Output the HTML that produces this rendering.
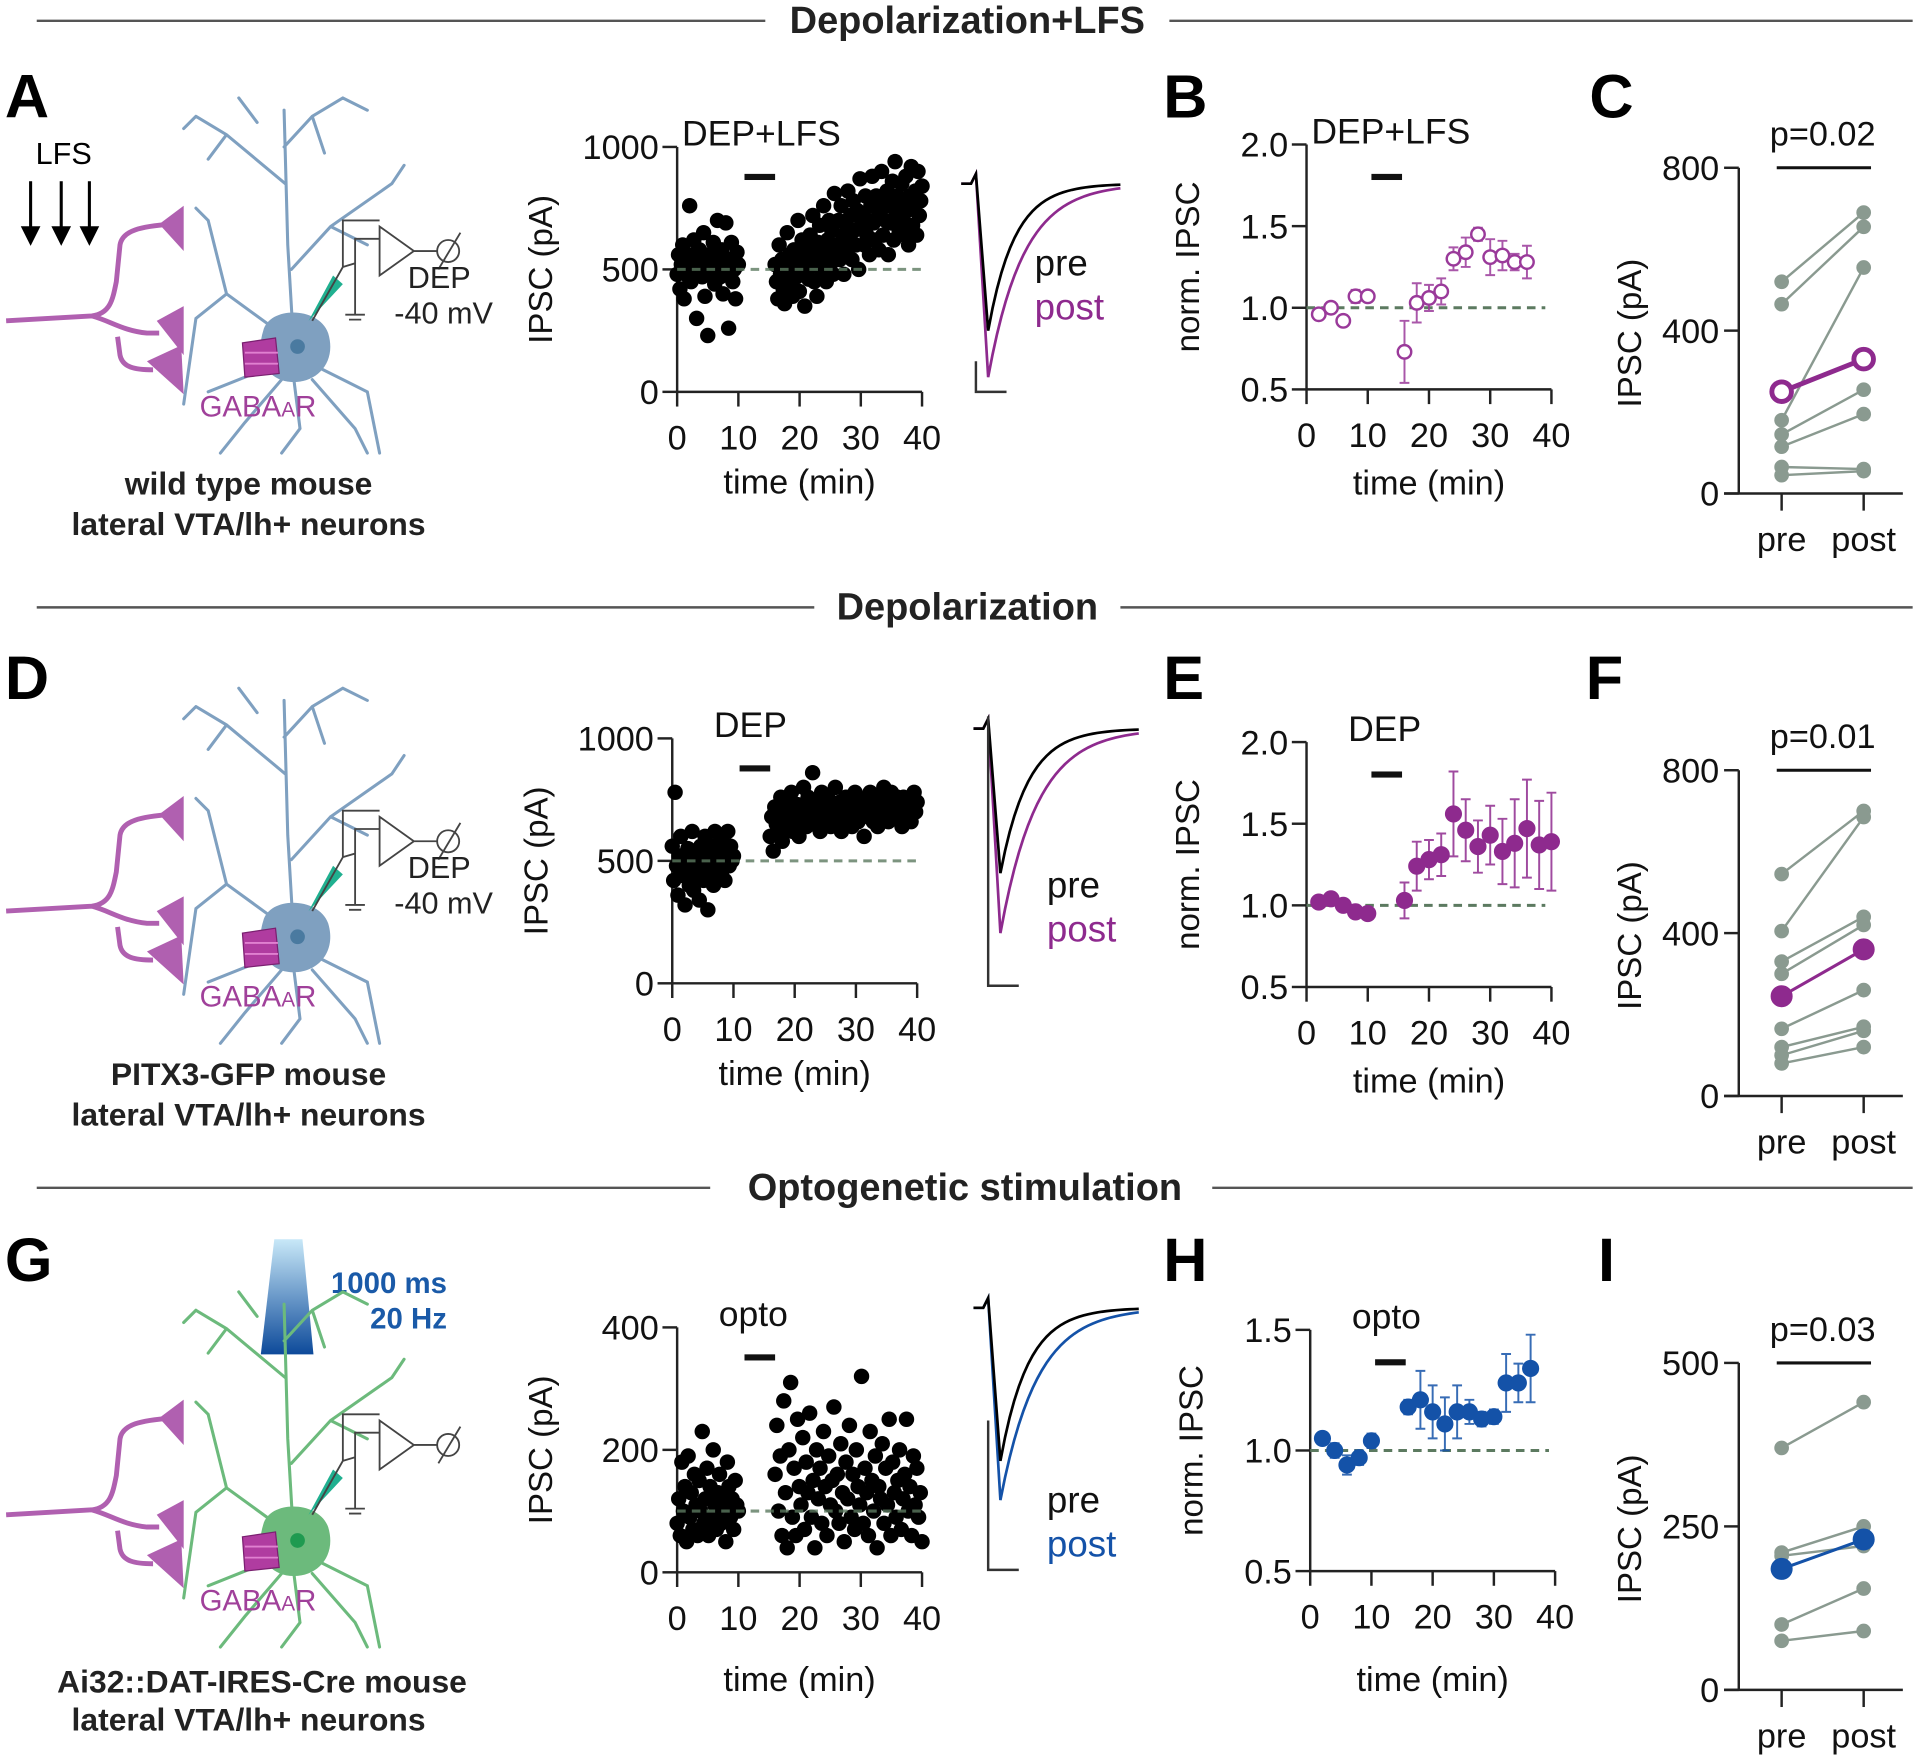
<!DOCTYPE html>
<html><head><meta charset="utf-8"><style>
html,body{margin:0;padding:0;background:#fff}
svg{display:block}
text{font-family:"Liberation Sans",Arial,sans-serif}
</style></head><body>
<svg id="fig" xmlns="http://www.w3.org/2000/svg" width="1920" height="1756" viewBox="0 0 1568 1434" preserveAspectRatio="none">
<g id="static">
  <g>
    <line x1="30" y1="17" x2="625" y2="17" stroke="#555" stroke-width="2"/>
    <line x1="955" y1="17" x2="1562" y2="17" stroke="#555" stroke-width="2"/>
    <text x="790" y="27" font-size="31" font-weight="bold" text-anchor="middle" fill="#222">Depolarization+LFS</text>
  </g>
  <g>
    <line x1="30" y1="496" x2="665" y2="496" stroke="#555" stroke-width="2"/>
    <line x1="915" y1="496" x2="1562" y2="496" stroke="#555" stroke-width="2"/>
    <text x="790" y="506" font-size="31" font-weight="bold" text-anchor="middle" fill="#222">Depolarization</text>
  </g>
  <g>
    <line x1="30" y1="970" x2="580" y2="970" stroke="#555" stroke-width="2"/>
    <line x1="990" y1="970" x2="1562" y2="970" stroke="#555" stroke-width="2"/>
    <text x="788" y="980" font-size="31" font-weight="bold" text-anchor="middle" fill="#222">Optogenetic stimulation</text>
  </g>
  <g font-size="50" font-weight="bold" fill="#000">
    <text x="4" y="96">A</text>
    <text x="950" y="96">B</text>
    <text x="1298" y="96">C</text>
    <text x="4" y="571">D</text>
    <text x="950" y="571">E</text>
    <text x="1295" y="571">F</text>
    <text x="4" y="1046">G</text>
    <text x="950" y="1046">H</text>
    <text x="1305" y="1046">I</text>
  </g>
  <g stroke="#000" stroke-width="2.5" fill="#000">
    <text x="52" y="134" font-size="25" stroke="none" text-anchor="middle">LFS</text>
    <line x1="25" y1="148" x2="25" y2="192"/><path d="M19,186 L25,198 L31,186Z"/>
    <line x1="50" y1="148" x2="50" y2="192"/><path d="M44,186 L50,198 L56,186Z"/>
    <line x1="73" y1="148" x2="73" y2="192"/><path d="M67,186 L73,198 L79,186Z"/>
  </g>
  <text x="203" y="404" font-size="26" font-weight="bold" text-anchor="middle" fill="#222">wild type mouse</text>
  <text x="203" y="437" font-size="26" font-weight="bold" text-anchor="middle" fill="#222">lateral VTA/lh+ neurons</text>
  <text x="203" y="886" font-size="26" font-weight="bold" text-anchor="middle" fill="#222">PITX3-GFP mouse</text>
  <text x="203" y="919" font-size="26" font-weight="bold" text-anchor="middle" fill="#222">lateral VTA/lh+ neurons</text>
  <text x="214" y="1382" font-size="26" font-weight="bold" text-anchor="middle" fill="#222">Ai32::DAT-IRES-Cre mouse</text>
  <text x="203" y="1413" font-size="26" font-weight="bold" text-anchor="middle" fill="#222">lateral VTA/lh+ neurons</text>
  <defs><linearGradient id="lg" x1="0" y1="0" x2="0" y2="1"><stop offset="0" stop-color="#c8e8f8"/><stop offset="1" stop-color="#0d4a9a"/></linearGradient></defs>
  <path d="M224,1012 L247,1012 L256,1106 L213,1106Z" fill="url(#lg)"/>
  <text x="365" y="1056" font-size="24" font-weight="bold" fill="#1a5aa8" text-anchor="end">1000 ms</text>
  <text x="365" y="1085" font-size="24" font-weight="bold" fill="#1a5aa8" text-anchor="end">20 Hz</text>
</g>
<g id="dyn"></g>
</svg>
<script>
// ---------------- data ----------------
const scatterAPre = [480,560,420,520,600,380,500,540,470,760,450,560,620,510,300,490,580,530,470,650,390,520,230,560,480,500,610,440,520,700,550,470,580,400,520,690,480,260,540,610,450,500,380,570,520];
const scatterAPost = [520,450,380,600,480,540,420,360,500,650,470,560,440,390,580,520,470,700,410,560,620,480,350,530,590,460,640,510,720,450,560,390,610,680,500,540,760,580,450,620,700,520,660,480,810,560,600,700,540,760,640,480,690,580,820,620,720,540,780,660,600,740,500,870,680,720,600,800,640,700,560,760,880,690,620,800,710,580,740,900,640,780,700,820,560,760,690,860,620,940,720,800,660,760,850,700,640,880,740,600,800,920,680,760,820,640,900,720,780,840];
const scatterDPre = [560,420,780,480,360,520,600,440,500,320,480,550,400,460,620,380,520,480,440,340,560,500,420,600,460,300,520,480,560,400,620,480,440,520,580,460,500,420,540,620,480,560,500,520];
const scatterDPost = [600,680,540,720,650,700,620,760,580,690,740,660,710,640,780,620,700,680,730,600,720,660,800,690,640,760,700,680,860,720,650,740,700,620,780,690,720,660,760,700,640,730,680,800,700,660,740,620,720,690,760,680,700,740,640,720,780,700,660,720,690,750,600,740,700,680,780,720,660,740,700,640,760,720,680,800,700,740,660,720,780,690,740,700,760,680,720,640,760,700,730,690,750,660,720,780,700,740];
const scatterGPre = [80,120,60,180,100,140,50,190,90,130,70,160,110,60,150,100,230,80,120,170,60,140,90,200,110,70,130,160,80,120,100,50,180,140,90,120,70,150,110,100];
const scatterGPost = [160,240,100,190,60,280,130,40,200,310,90,170,60,250,140,110,220,70,180,130,260,90,150,40,200,120,170,80,230,140,60,190,110,150,270,100,160,80,210,130,50,180,120,240,90,160,70,200,140,110,320,80,170,130,60,230,150,100,190,40,140,120,210,80,170,110,250,60,180,130,90,150,200,70,120,160,250,100,140,60,190,110,170,90,130,50];
const scatterBaselines = {a:500, d:500, g:100};
const normTimesPre = [2,4,6,8,10];
const normTimesPost = [16,18,20,22,24,26,28,30,32,34,36];
const normTimesPostE = [16,18,20,22,24,26,28,30,32,34,36,38,40];
const normBPre = [0.96,1.00,0.92,1.07,1.07];
const normBPost = [0.73,1.03,1.06,1.10,1.30,1.34,1.45,1.31,1.32,1.28,1.28];
const normBErr = [0.03,0.02,0.03,0.04,0.02,0.19,0.12,0.08,0.08,0.07,0.09,0.04,0.11,0.09,0.05,0.10];
const normEPre = [1.02,1.04,1.00,0.96,0.95];
const normEPost = [1.03,1.24,1.28,1.31,1.56,1.46,1.36,1.43,1.33,1.38,1.47,1.37,1.39];
const normEErr = [0.03,0.02,0.02,0.02,0.02,0.11,0.15,0.12,0.13,0.26,0.19,0.16,0.18,0.20,0.27,0.30,0.27,0.30];
const normHPre = [1.05,1.00,0.94,0.97,1.04];
const normHPost = [1.18,1.21,1.16,1.11,1.16,1.16,1.13,1.14,1.28,1.28,1.34];
const normHErr = [0.02,0.03,0.04,0.03,0.03,0.03,0.12,0.11,0.11,0.11,0.05,0.03,0.03,0.12,0.08,0.14];
const pairsCPre = [520,465,180,145,115,65,45];
const pairsCPost = [690,655,555,255,195,60,55];
const meanC = [250,330];
const pairsFPre = [545,405,330,300,165,120,100,80];
const pairsFPost = [700,685,440,420,260,170,160,120];
const meanF = [245,360];
const pairsIPre = [370,210,205,100,75];
const pairsIPost = [440,250,220,155,90];
const meanI = [185,230];
const timeTicks = [0,10,20,30,40];
const scatterTicks = {a:[0,500,1000], g:[0,200,400]};
const normTicksBE = [0.5,1.0,1.5,2.0];
const normTicksH = [0.5,1.0,1.5];
const pairTicksCF = [0,400,800];
const pairTicksI = [0,250,500];

// ---------------- helpers ----------------
const NS='http://www.w3.org/2000/svg';
const dyn=document.getElementById('dyn');
function mk(tag,attrs,parent){const e=document.createElementNS(NS,tag);for(const k in attrs)e.setAttribute(k,attrs[k]);(parent||dyn).appendChild(e);return e;}
function txt(s,attrs,parent){const e=mk('text',attrs,parent);e.textContent=s;return e;}
function lin(d0,d1,r0,r1){return v=>r0+(v-d0)*(r1-r0)/(d1-d0);}
const GREEN='#5c7a60', PURP='#8e2a8e', BLUE='#1452a8', GRAY='#8a9a90';
const TF=28;

function axes(g,x0,x1,yb,yt,xs,ys,xt,yt_,fmt,yLabel,ylx,xLabelY){
  mk('line',{x1:x0,y1:yb,x2:x0,y2:yt,stroke:'#222','stroke-width':2},g);
  mk('line',{x1:x0,y1:yb,x2:x1,y2:yb,stroke:'#222','stroke-width':2},g);
  xt.forEach(t=>{const tk=mk('line',{x1:xs(t),y1:yb,x2:xs(t),y2:yb+12,stroke:'#222','stroke-width':2},g);
    
    
    const l=txt(String(t),{x:xs(t),y:yb+47,'font-size':TF,'text-anchor':'middle',fill:'#111'},g);
    
    });
  yt_.forEach(t=>{const tk=mk('line',{x1:x0-12,y1:ys(t),x2:x0,y2:ys(t),stroke:'#222','stroke-width':2},g);
    
    
    const l=txt(fmt(t),{x:x0-15,y:ys(t)+10,'font-size':TF,'text-anchor':'end',fill:'#111'},g);
    
    });
  const yl=txt(yLabel,{x:0,y:0,'font-size':27,'text-anchor':'middle',fill:'#111',transform:`translate(${ylx},${(yb+yt)/2}) rotate(-90)`},g);
  
  
  if(xLabelY){const xl=txt('time (min)',{x:(x0+x1)/2,y:xLabelY,'font-size':28,'text-anchor':'middle',fill:'#111'},g);
    
    }
}

function scatterPanel(name,x0,yb,yt,ymax,ticks,pre,post,label,xLabelY,base){
  const g=mk('g',{});  
  const xs=lin(0,40,x0,x0+200), ys=lin(0,ymax,yb,yt);
  axes(g,x0,x0+200,yb,yt,xs,ys,timeTicks,ticks,String,'IPSC (pA)',x0-102,xLabelY);
  const lb=txt(label,{x:x0+(label==='DEP+LFS'?4:34),y:yt-1,'font-size':29,fill:'#111'},g);
  
  
  const bar=mk('rect',{x:xs(11),y:yt+22,width:xs(16)-xs(11),height:5,fill:'#111'},g);
  
  
  pre.forEach((v,i)=>{const t=0+i*10/(pre.length-1);
    const c=mk('circle',{cx:xs(t),cy:ys(v),r:6.3,fill:'#000'},g);
    
    });
  post.forEach((v,i)=>{const t=16+i*24/(post.length-1);
    const c=mk('circle',{cx:xs(t),cy:ys(v),r:6.3,fill:'#000'},g);
    
    });
  const dl=mk('line',{x1:x0,y1:ys(base),x2:x0+200,y2:ys(base),stroke:GREEN,'stroke-width':2.5,'stroke-dasharray':'7,5',opacity:0.8},g);
  
  
}

function normPanel(name,x0,yb,yt,ymin,ymax,ticks,tPre,vPre,tPost,vPost,err,color,open,label,xLabelY){
  const g=mk('g',{});  
  const xs=lin(0,40,x0,x0+200), ys=lin(ymin,ymax,yb,yt);
  axes(g,x0,x0+200,yb,yt,xs,ys,timeTicks,ticks,v=>v.toFixed(1),'norm. IPSC',x0-88,xLabelY);
  const dl=mk('line',{x1:x0,y1:ys(1),x2:x0+195,y2:ys(1),stroke:GREEN,'stroke-width':2.5,'stroke-dasharray':'7,5'},g);
  
  
  const lb=txt(label,{x:x0+(label==='DEP+LFS'?4:34),y:yt-1,'font-size':29,fill:'#111'},g);
  
  
  const bar=mk('rect',{x:xs(10.6),y:yt+24,width:xs(15.6)-xs(10.6),height:5,fill:'#111'},g);
  
  
  const ts=tPre.concat(tPost), vs=vPre.concat(vPost);
  ts.forEach((t,i)=>{
    const e=err[i]||0.03, x=xs(t);
    const eb=mk('path',{d:`M${x},${ys(vs[i]-e)}V${ys(vs[i]+e)}M${x-4},${ys(vs[i]-e)}h8M${x-4},${ys(vs[i]+e)}h8`,stroke:color,'stroke-width':1.6,fill:'none',opacity:0.85},g);
    
    
    const c=mk('circle',{cx:x,cy:ys(vs[i]),r:open?5.5:6.5,fill:open?'#fff':color,stroke:color,'stroke-width':open?2:1},g);
    
    
  });
}

function pairPanel(name,yb,yt,ymax,ticks,pre,post,mean,color,open,p){
  const g=mk('g',{});  
  const x0=1420, xp=1455, xq=1522, ys=lin(0,ymax,yb,yt);
  mk('line',{x1:x0,y1:yb,x2:x0,y2:yt,stroke:'#222','stroke-width':2},g);
  mk('line',{x1:x0-12,y1:yb,x2:1554,y2:yb,stroke:'#222','stroke-width':2},g);
  ticks.forEach(t=>{mk('line',{x1:x0-12,y1:ys(t),x2:x0,y2:ys(t),stroke:'#222','stroke-width':2},g);
    const l=txt(String(t),{x:x0-16,y:ys(t)+10,'font-size':TF,'text-anchor':'end',fill:'#111'},g);
    
    });
  [[xp,'pre'],[xq,'post']].forEach(([x,s])=>{mk('line',{x1:x,y1:yb,x2:x,y2:yb+14,stroke:'#222','stroke-width':2},g);
    const l=txt(s,{x:x,y:yb+47,'font-size':28,'text-anchor':'middle',fill:'#111'},g);
    
    });
  const yl=txt('IPSC (pA)',{x:0,y:0,'font-size':27,'text-anchor':'middle',fill:'#111',transform:`translate(1340,${(yb+yt)/2+2}) rotate(-90)`},g);
  
  
  const pl=txt(p,{x:(xp+xq)/2,y:yt-18,'font-size':28,'text-anchor':'middle',fill:'#111'},g);
  
  
  const sb=mk('line',{x1:xp-4,y1:yt,x2:xq+6,y2:yt,stroke:'#111','stroke-width':2.5},g);
  
  
  pre.forEach((v,i)=>{
    const l=mk('line',{x1:xp,y1:ys(v),x2:xq,y2:ys(post[i]),stroke:GRAY,'stroke-width':2},g);
    
    
    const a=mk('circle',{cx:xp,cy:ys(v),r:6,fill:GRAY},g);
    
    
    const b=mk('circle',{cx:xq,cy:ys(post[i]),r:6,fill:GRAY},g);
    
    
  });
  const ml=mk('line',{x1:xp,y1:ys(mean[0]),x2:xq,y2:ys(mean[1]),stroke:color,'stroke-width':open?4:2.5},g);
  
  
  mean.forEach((v,i)=>{const c=mk('circle',{cx:i?xq:xp,cy:ys(v),r:open?8:8.5,fill:open?'#fff':color,stroke:color,'stroke-width':open?4:1},g);
    
    });
}

function trace(name,x0,yBase,w,ampPre,ampPost,postColor,labY,scaleTop,scaleBottom){
  const g=mk('g',{});  
  function curve(amp,tau){let d=`M${x0},${yBase}h8 L${x0+12},${yBase-8} L${x0+22},${yBase+amp}`;
    for(let i=1;i<=30;i++){const x=x0+22+i*(w-22)/30;d+=` L${x},${yBase+amp*Math.exp(-i/tau)}`;}return d;}
  const p2=mk('path',{d:curve(ampPost,8),stroke:postColor,'stroke-width':2.2,fill:'none'},g);
  
  
  const p1=mk('path',{d:curve(ampPre,6),stroke:'#000','stroke-width':2.2,fill:'none'},g);
  
  
  const sc=mk('path',{d:`M${x0+12},${scaleTop}V${scaleBottom}h25`,stroke:'#333','stroke-width':2,fill:'none'},g);
  
  
  const a=txt('pre',{x:x0+60,y:labY,'font-size':30,fill:'#111'},g);
  
  
  const b=txt('post',{x:x0+60,y:labY+36,'font-size':30,fill:postColor},g);
  
  
}

function neuron(name,ox,oy,col,showDep){
  const g=mk('g',{transform:`translate(${ox},${oy})`});  
  const P='#b060b0';
  const ax=mk('path',{d:'M5,262 L75,258 C90,256 92,245 95,230 L98,200 C100,188 115,185 140,183 M75,258 C90,262 100,270 120,272 L130,272 M96,275 L98,290 C100,300 110,302 125,302',stroke:P,'stroke-width':4,fill:'none'},g);
  
  
  ['M130,183 L150,168 L150,205Z','M128,262 L150,250 L150,290Z','M120,295 L148,282 L150,322Z'].forEach(d=>{
    const b=mk('path',{d,fill:P},g);
    
    });
  const dd='M240,285 L235,200 L232,90 M233,150 L185,110 L160,95 M185,110 L170,130 M232,120 L255,95 L280,80 M255,95 L265,125 M238,220 L270,185 L320,150 M270,185 L300,200 M240,280 L185,240 L170,180 M185,240 L160,260 L150,330 M260,300 L300,320 L310,370 M255,310 L290,350 L300,370 M230,310 L200,345 L180,370 M240,310 L245,350 L230,370 M220,300 L170,320 M210,100 L195,80 M160,95 L150,105 M280,80 L300,90 M320,150 L330,135 M170,180 L160,170';
  const dn=mk('path',{d:dd,stroke:col,'stroke-width':2.5,fill:'none','stroke-linecap':'round'},g);
  
  
  const so=mk('path',{d:'M215,270 C220,250 260,250 268,272 C275,295 260,312 240,312 C218,312 208,292 215,270Z',fill:col},g);
  
  
  mk('circle',{cx:243,cy:283,r:6,fill:col==='#7fa0c0'?'#4a7aa0':'#1f9a50'},g);
  const rc=mk('path',{d:'M198,280 L225,276 L228,305 L200,308Z',fill:'#b03ca0',stroke:'#7a2070','stroke-width':1},g);
  
  
  mk('path',{d:'M200,288 H227 M200,297 H227',stroke:'#e080d0','stroke-width':1.5},g);
  const rl=txt('GABA',{x:163,y:340,'font-size':24,fill:'#a0409a'},g);
  
  
  const ts=mk('tspan',{'font-size':17},rl); ts.textContent='A';
  const ts2=mk('tspan',{},rl); ts2.textContent='R';
  const el=mk('path',{d:'M252,262 L272,225 L280,232Z',fill:'#20b090'},g);
  
  
  const am=mk('path',{d:'M255,262 L280,218 V180 H310 M280,218 L290,215 V195 H310 M310,185 V225 L338,205Z M338,205 H357 M290,215 V257 M282,257 H298 M285,261 H295',stroke:'#444','stroke-width':1.5,fill:'none'},g);
  
  
  mk('circle',{cx:366,cy:205,r:9,stroke:'#444','stroke-width':1.5,fill:'none'},g);
  mk('line',{x1:358,y1:220,x2:376,y2:190,stroke:'#444','stroke-width':1.5},g);
  if(showDep){
    const t1=txt('DEP',{x:333,y:235,'font-size':25,fill:'#222'},g);
    
    
    const t2=txt('-40 mV',{x:322,y:264,'font-size':25,fill:'#222'},g);
    
    
  }
}

// ---------------- build ----------------
neuron('neuron-schematic-a',0,0,'#7fa0c0',true);
neuron('neuron-schematic-d',0,482,'#7fa0c0',true);
neuron('neuron-schematic-g',0,975,'#6cba7c',false);

scatterPanel('scatter-a',553,320,120,1000,scatterTicks.a,scatterAPre,scatterAPost,'DEP+LFS',403,scatterBaselines.a);
scatterPanel('scatter-d',549,803,603,1000,scatterTicks.a,scatterDPre,scatterDPost,'DEP',886,scatterBaselines.d);
scatterPanel('scatter-g',553,1284,1084,400,scatterTicks.g,scatterGPre,scatterGPost,'opto',1381,scatterBaselines.g);

trace('traces-a',785,150,130,120,158,PURP,225,295,320);
trace('traces-d',795,595,135,118,167,PURP,733,585,805);
trace('traces-g',795,1068,135,125,157,BLUE,1235,1160,1282);

normPanel('norm-b',1067,318,118,0.5,2.0,normTicksBE,normTimesPre,normBPre,normTimesPost,normBPost,normBErr,'#9a3a9a',true,'DEP+LFS',404);
normPanel('norm-e',1067,806,606,0.5,2.0,normTicksBE,normTimesPre,normEPre,normTimesPostE.slice(0,normEPost.length),normEPost,normEErr,PURP,false,'DEP',892);
normPanel('norm-h',1070,1283,1086,0.5,1.5,normTicksH,normTimesPre,normHPre,normTimesPost,normHPost,normHErr,BLUE,false,'opto',1381);

pairPanel('pairs-c',403,137,800,pairTicksCF,pairsCPre,pairsCPost,meanC,PURP,true,'p=0.02');
pairPanel('pairs-f',895,629,800,pairTicksCF,pairsFPre,pairsFPost,meanF,PURP,false,'p=0.01');
pairPanel('pairs-i',1380,1113,500,pairTicksI,pairsIPre,pairsIPost,meanI,BLUE,false,'p=0.03');
</script>
</body></html>
